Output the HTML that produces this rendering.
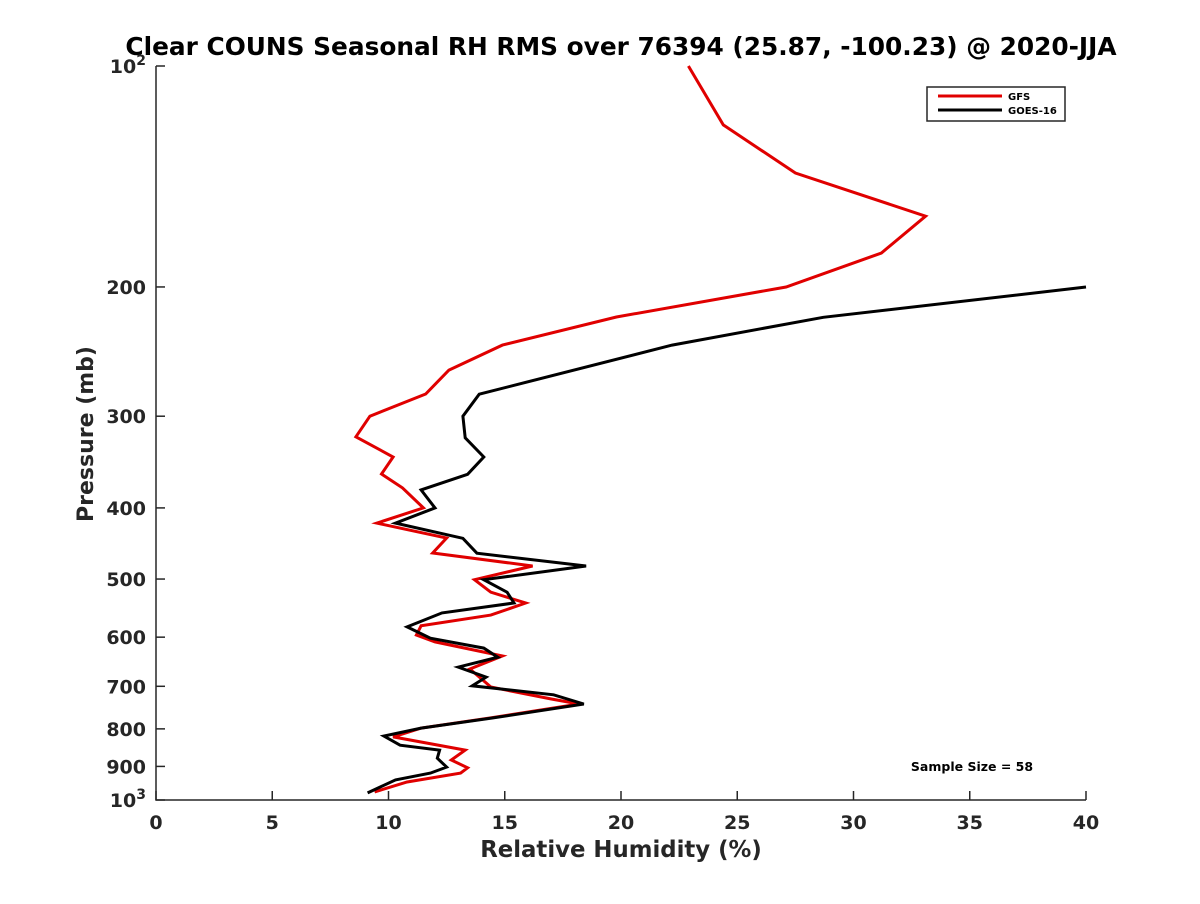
<!DOCTYPE html>
<html><head><meta charset="utf-8"><style>
body{margin:0;background:#fff;font-family:"DejaVu Sans",sans-serif}
svg text{font-family:"DejaVu Sans","Liberation Sans",sans-serif;font-weight:bold;fill:#262626}
</style></head><body>
<svg id="chart" width="1200" height="900" xmlns="http://www.w3.org/2000/svg">
<rect width="1200" height="900" fill="#fff"/>
<text x="621" y="55" font-size="24.8" text-anchor="middle" style="fill:#000">Clear COUNS Seasonal RH RMS over 76394 (25.87, -100.23) @ 2020-JJA</text>
<g id="axes"></g>
<g id="series"></g>
<text x="621" y="857" font-size="22.8" text-anchor="middle">Relative Humidity (%)</text>
<text transform="translate(93,434) rotate(-90)" font-size="22" text-anchor="middle">Pressure (mb)</text>
<text x="972" y="771" font-size="12.5" text-anchor="middle" style="fill:#000">Sample Size = 58</text>
<g>
<rect x="927" y="87" width="138" height="34" fill="#fff" stroke="#262626" stroke-width="1.5"/>
<line x1="938" y1="96" x2="1002" y2="96" stroke="#e00000" stroke-width="3"/>
<line x1="938" y1="110" x2="1002" y2="110" stroke="#000" stroke-width="3"/>
<text x="1008" y="100" font-size="10" style="fill:#000">GFS</text>
<text x="1008" y="114" font-size="10" style="fill:#000">GOES-16</text>
</g>
</svg>
<script>
const gfsP=[100,120.3,139.9,160.2,179.8,200,219.8,240,259.6,279.8,300,320,341,359.6,375.7,400,419.5,439.6,460.8,480,501,521,539,559.8,579,596,609,636.6,663,692.6,701.5,728.4,740,773,798,820.5,855,882,904,919,945,975];
const gfsRH=[22.9,24.4,27.5,33.1,31.2,27.1,19.8,14.9,12.6,11.6,9.2,8.6,10.2,9.7,10.6,11.5,9.5,12.5,11.9,16.2,13.7,14.4,15.9,14.4,11.4,11.2,12.0,14.9,13.5,14.2,14.4,17.0,18.2,14.4,11.4,10.2,13.3,12.7,13.4,13.1,10.8,9.4];
const goesP=[200,220,240,280,300,321,341,360,378,400,419.5,440,461,480,501,521,539,556,581,602,621,639,659,680,699,719,740,773,798,818,842,855,877,902,919,939,978];
const goesRH=[40.0,28.7,22.2,13.9,13.2,13.3,14.1,13.4,11.4,12.0,10.3,13.2,13.8,18.5,14.1,15.1,15.4,12.3,10.8,11.8,14.1,14.7,13.0,14.2,13.6,17.1,18.4,14.5,11.4,9.8,10.5,12.2,12.1,12.5,11.8,10.3,9.1];
const xTicks=[0,5,10,15,20,25,30,35,40];
const yTicks=[100,200,300,400,500,600,700,800,900,1000];
const yTickLabels=['10^2','200','300','400','500','600','700','800','900','10^3'];
const X0=156,X1=1086,Y0=66,Y1=800;
const xs=v=>X0+(v/40)*(X1-X0);
const ys=p=>Y0+(Math.log10(p)-2)*(Y1-Y0);
const NS='http://www.w3.org/2000/svg';
function mk(t,a,parent){const e=document.createElementNS(NS,t);for(const k in a)e.setAttribute(k,a[k]);parent.appendChild(e);return e;}
const axes=document.getElementById('axes');
const ax=mk('path',{d:`M${X0},${Y0}V${Y1}H${X1}`,fill:'none',stroke:'#262626','stroke-width':1.5},axes);


xTicks.forEach(v=>{
  const x=xs(v);
  const l=mk('line',{x1:x,y1:Y1,x2:x,y2:Y1-9,stroke:'#262626','stroke-width':1.5},axes);
  
  
  const t=mk('text',{x:x,y:Y1+29,'font-size':19,'text-anchor':'middle'},axes);
  
  
  t.textContent=v;
});
yTicks.forEach((p,i)=>{
  const y=ys(p);
  const l=mk('line',{x1:X0,y1:y,x2:X0+9,y2:y,stroke:'#262626','stroke-width':1.5},axes);
  
  
  const lab=yTickLabels[i];
  const t=mk('text',{x:X0-10,y:y+7,'font-size':19,'text-anchor':'end'},axes);
  
  
  if(lab.indexOf('^')>=0){
    const [b,e]=lab.split('^');
    const t1=mk('tspan',{},t);t1.textContent=b;
    const t2=mk('tspan',{dy:-8,'font-size':14},t);t2.textContent=e;
  } else t.textContent=lab;
});
const ser=document.getElementById('series');
function line(P,R,col,name){
  const d=P.map((p,i)=>(i?'L':'M')+xs(R[i]).toFixed(1)+','+ys(p).toFixed(1)).join('');
  const e=mk('path',{d:d,fill:'none',stroke:col,'stroke-width':3,'stroke-linejoin':'miter'},ser);
  
  
}
line(gfsP,gfsRH,'#e00000','gfs-line');
line(goesP,goesRH,'#000','goes16-line');
</script>
</body></html>
